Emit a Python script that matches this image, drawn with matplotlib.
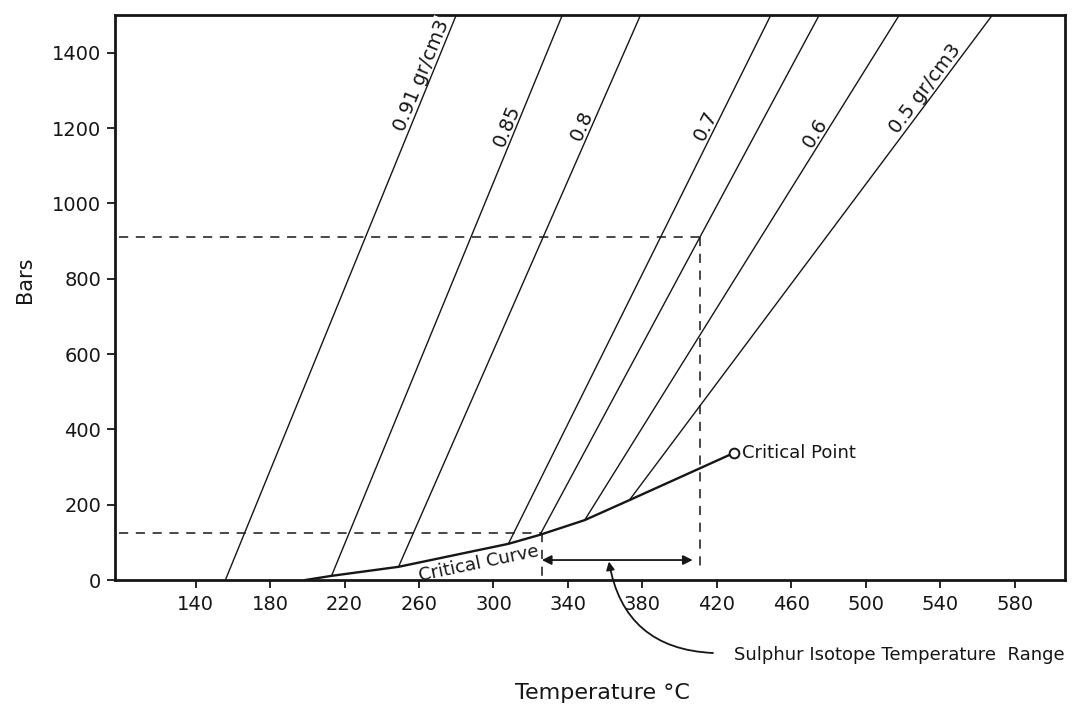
import numpy as np
import matplotlib
matplotlib.use("Agg")
import matplotlib.pyplot as plt

# Isochores of water: start on the critical curve (or the T axis), end at 1500 bars
density_labels = ["0.91 gr/cm3", "0.85", "0.8", "0.7", "", "0.6", "0.5 gr/cm3"]
iso_t_start = [156, 213, 249, 308, 325, 349, 373]
iso_p_start = [0, 11, 35, 96, 120, 159, 212]
iso_t_top = [280, 337, 379, 449, 475, 518, 568]
iso_p_top = [1500, 1500, 1500, 1500, 1500, 1500, 1500]
label_p = [1330, 1196, 1196, 1196, None, 1174, 1290]

# Liquid-vapour critical curve ending at the critical point
crit_t = [199, 213, 249, 308, 325, 349, 373, 429]
crit_p = [0, 11, 35, 96, 120, 159, 212, 337]

# Pressure bounds and sulphur isotope temperature range
p_high = 910
p_low = 125
t_iso_lo = 326
t_iso_hi = 411
arrow_p = 53
arrow_t_end = 407

x_ticks = list(range(140, 581, 40))
y_ticks = list(range(0, 1401, 200))

plt.rcParams['font.family'] = ['DejaVu Sans']

fig = plt.figure(figsize=(10.83, 7.10), dpi=100)
ax = fig.add_axes([115 / 1083, 130 / 710, 950 / 1083, 565 / 710])
ax.set_xlim(96.7, 607)
ax.set_ylim(0, 1500)

ink = "#161616"

# isochores
for ts, ps, tt, pt in zip(iso_t_start, iso_p_start, iso_t_top, iso_p_top):
    ax.plot([ts, tt], [ps, pt], color=ink, lw=1.0, zorder=3, solid_capstyle="butt")

# critical curve and critical point
ax.plot(crit_t, crit_p, color=ink, lw=1.7, zorder=3)
ax.plot(crit_t[-1], crit_p[-1], marker="o", ms=7, mfc="white", mec=ink, mew=1.4, zorder=4)
ax.text(crit_t[-1] + 4.5, crit_p[-1], "Critical Point", fontsize=13, ha="left",
        va="center", color=ink)

# labels along the isochores
fig.canvas.draw()
for lab, ts, ps, tt, pt, lp in zip(density_labels, iso_t_start, iso_p_start,
                                    iso_t_top, iso_p_top, label_p):
    if not lab:
        continue
    (x0, y0), (x1, y1) = ax.transData.transform([(ts, ps), (tt, pt)])
    ang = np.degrees(np.arctan2(y1 - y0, x1 - x0))
    frac = (lp - ps) / (pt - ps)
    tx = ts + frac * (tt - ts)
    kw = {}
    if lab.startswith("0.91"):
        kw = dict(bbox=dict(facecolor="white", edgecolor="none", pad=1.0))
    ax.text(tx, lp, lab, rotation=ang, rotation_mode="anchor", ha="center",
            va="bottom", fontsize=14, color=ink, zorder=2.8, **kw)

# "Critical Curve" label
(cx0, cy0), (cx1, cy1) = ax.transData.transform([(crit_t[2], crit_p[2]), (crit_t[3], crit_p[3])])
ang_c = np.degrees(np.arctan2(cy1 - cy0, cx1 - cx0))
ax.text(292, 44, "Critical Curve", rotation=ang_c, rotation_mode="anchor",
        ha="center", va="center", fontsize=13, color=ink)

# dashed guide lines
dash = dict(color=ink, lw=1.1, ls=(0, (6, 5)), zorder=2)
ax.plot([99, t_iso_hi], [p_high, p_high], **dash)
ax.plot([t_iso_hi, t_iso_hi], [p_high, 25], **dash)
ax.plot([99, t_iso_lo], [p_low, p_low], **dash)
ax.plot([t_iso_lo, t_iso_lo], [p_low, 5], **dash)

# temperature range arrow
ax.annotate("", xy=(arrow_t_end, arrow_p), xytext=(t_iso_lo, arrow_p),
            arrowprops=dict(arrowstyle="<|-|>", color=ink, lw=1.3,
                            mutation_scale=14, shrinkA=0, shrinkB=0))

# curved pointer to the range label
ax.annotate("", xy=(362, arrow_p - 4), xycoords="data",
            xytext=(713, 57), textcoords="figure pixels",
            arrowprops=dict(arrowstyle="-|>", color=ink, lw=1.3, mutation_scale=12,
                            shrinkA=0, shrinkB=0, connectionstyle="arc3,rad=-0.4"),
            annotation_clip=False)
fig.text(734 / 1083, 1 - 655 / 710, "Sulphur Isotope Temperature  Range",
         fontsize=13, ha="left", va="center", color=ink)

# axes styling
for side in ["left", "right", "top", "bottom"]:
    ax.spines[side].set_linewidth(2.0)
    ax.spines[side].set_color(ink)
ax.set_xticks(x_ticks)
ax.set_yticks(y_ticks)
ax.set_xticklabels([str(v) for v in x_ticks])
ax.set_yticklabels([str(v) for v in y_ticks])
ax.tick_params(axis="both", direction="out", length=6, width=1.3, colors=ink,
               labelsize=14)
ax.tick_params(axis="y", pad=4)
ax.tick_params(axis="x", pad=5)

fig.text(25 / 1083, 1 - 280 / 710, "Bars", rotation=90, fontsize=15,
         ha="center", va="center", color=ink)
fig.text(602 / 1083, 1 - 693 / 710, "Temperature °C", fontsize=16,
         ha="center", va="center", color=ink)

fig.savefig("out.png", dpi=100)
